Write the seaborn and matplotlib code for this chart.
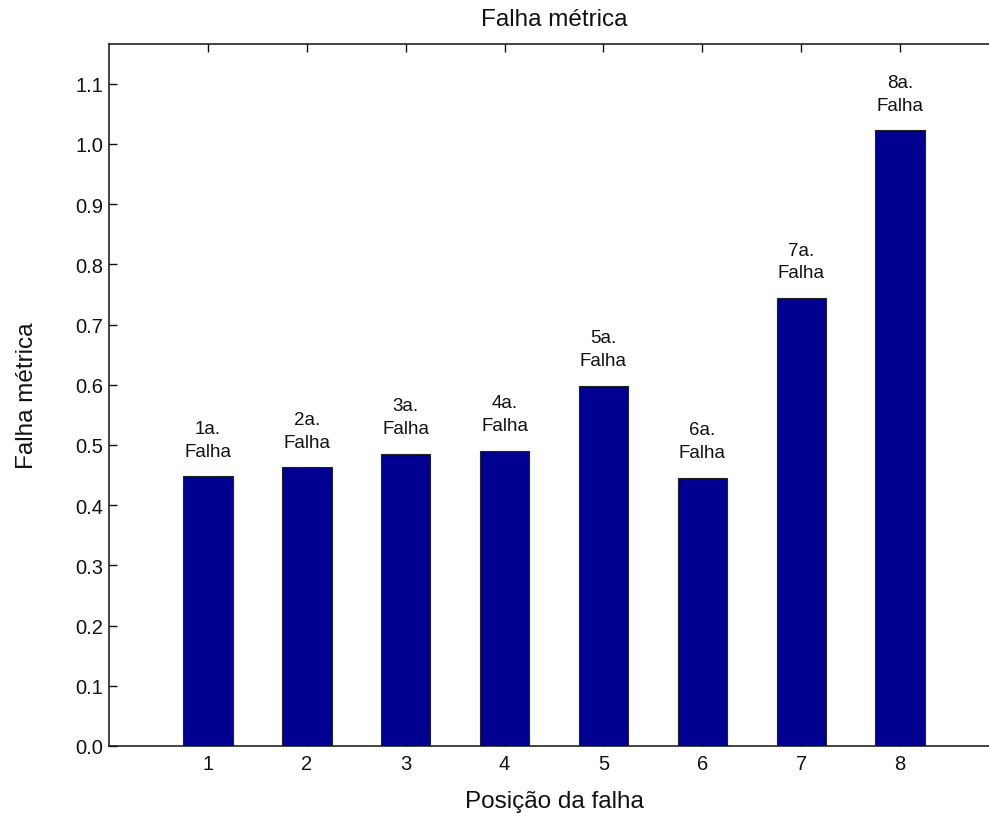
import matplotlib
matplotlib.use("Agg")
import matplotlib.pyplot as plt
import seaborn as sns
import pandas as pd

# Fault metric per fault position
positions = [1, 2, 3, 4, 5, 6, 7, 8]
metric = [0.448, 0.463, 0.485, 0.4905, 0.5985, 0.4457, 0.744, 1.0227]
bar_labels = ["1a.\nFalha", "2a.\nFalha", "3a.\nFalha", "4a.\nFalha",
              "5a.\nFalha", "6a.\nFalha", "7a.\nFalha", "8a.\nFalha"]
y_ticks = [0.0, 0.1, 0.2, 0.3, 0.4, 0.5, 0.6, 0.7, 0.8, 0.9, 1.0, 1.1]

sns.set_theme(style="white")
plt.rcParams["font.family"] = ["Liberation Sans", "DejaVu Sans"]

df = pd.DataFrame({"pos": positions, "val": metric})

fig = plt.figure(figsize=(9.89, 8.2), dpi=100)
ax = fig.add_axes([109 / 989, 73 / 820, 890 / 989, 702 / 820])

sns.barplot(data=df, x="pos", y="val", native_scale=True, width=0.5,
            color="#000090", saturation=1, edgecolor="#222222",
            linewidth=0.8, ax=ax)

for x, v, lab in zip(positions, metric, bar_labels):
    ax.annotate(lab, xy=(x, v), xytext=(0, 12), textcoords="offset points",
                ha="center", va="bottom", fontsize=13.5, linespacing=1.45,
                color="#111111")

ax.set_xlim(0, 9)
ax.set_ylim(0, 1.166)
ax.set_xticks(positions)
ax.set_xticklabels([str(p) for p in positions])
ax.set_yticks(y_ticks)
ax.set_yticklabels([f"{t:.1f}" for t in y_ticks])
ax.set_axisbelow(True)

ax.tick_params(axis="both", direction="in", length=5.5, width=1.0,
               colors="#111111", labelsize=14.5, top=True, left=True,
               bottom=True, right=True)
ax.tick_params(axis="x", pad=6)
ax.tick_params(axis="y", pad=4)

for side in ["left", "right", "top", "bottom"]:
    ax.spines[side].set_visible(True)
    ax.spines[side].set_color("#111111")
    ax.spines[side].set_linewidth(1.1)

ax.set_title("Falha métrica", fontsize=17.5, pad=14, color="#111111")
ax.set_xlabel("Posição da falha", fontsize=17.5, labelpad=12, color="#111111")
ax.set_ylabel("Falha métrica", fontsize=17.5, labelpad=27, color="#111111")

fig.savefig("out.png", dpi=100)
